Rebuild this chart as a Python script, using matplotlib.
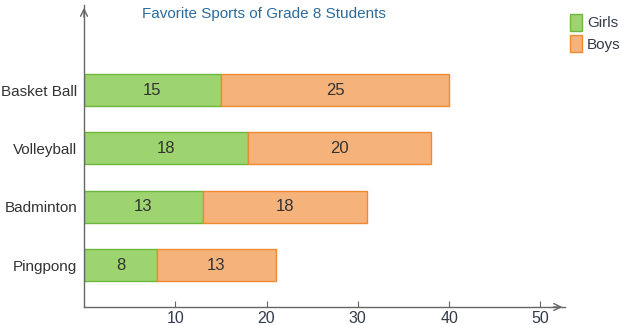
import matplotlib.pyplot as plt

plt.rcParams['font.family'] = ['Liberation Sans', 'DejaVu Sans']

sports = ['Pingpong', 'Badminton', 'Volleyball', 'Basket Ball']
girls = [8, 13, 18, 15]
boys = [13, 18, 20, 25]
x_ticks = [10, 20, 30, 40, 50]

GREEN = '#9dd46f'
GREEN_EDGE = '#6cb83c'
ORANGE = '#f5b27b'
ORANGE_EDGE = '#ef8a30'
TEXT = '#333333'
AXIS = '#666666'

fig = plt.figure(figsize=(6.21, 3.25), dpi=100)
ax = fig.add_axes([84 / 621, 18 / 325, (565 - 84) / 621, 302 / 325])

pos = list(range(len(sports)))
h = 0.55
ax.barh(pos, girls, height=h, color=GREEN, edgecolor=GREEN_EDGE, linewidth=1, label='Girls')
ax.barh(pos, boys, left=girls, height=h, color=ORANGE, edgecolor=ORANGE_EDGE, linewidth=1, label='Boys')

# value labels in the middle of each segment
for p, g, b in zip(pos, girls, boys):
    ax.text(g / 2, p, str(g), ha='center', va='center', fontsize=12, color=TEXT)
    ax.text(g + b / 2, p, str(b), ha='center', va='center', fontsize=12, color=TEXT)

ax.set_xlim(0, 52.7)
ax.set_ylim(-0.72, 4.46)
ax.set_yticks(pos)
ax.set_yticklabels(sports)
ax.set_xticks(x_ticks)

for s in ['top', 'right']:
    ax.spines[s].set_visible(False)
for s in ['left', 'bottom']:
    ax.spines[s].set_color(AXIS)
    ax.spines[s].set_linewidth(1)

ax.tick_params(axis='x', direction='in', length=4, color=AXIS, labelsize=11.5, labelcolor='#333a4a', pad=3)
ax.tick_params(axis='y', length=0, labelsize=11, labelcolor=TEXT, pad=5)

# open arrow heads at the ends of both axes
ax.annotate('', xy=(1.0, 0), xytext=(0.97, 0), xycoords='axes fraction',
            arrowprops=dict(arrowstyle='->,head_length=0.5,head_width=0.25', color=AXIS, lw=1),
            annotation_clip=False)
ax.annotate('', xy=(0, 1.0), xytext=(0, 0.95), xycoords='axes fraction',
            arrowprops=dict(arrowstyle='->,head_length=0.5,head_width=0.25', color=AXIS, lw=1),
            annotation_clip=False)

fig.text(264 / 621, 1 - 14 / 325, 'Favorite Sports of Grade 8 Students', ha='center', va='center',
         fontsize=11, color='#2a6c9e')

fig.legend(loc='upper left', bbox_to_anchor=(570 / 621, 1 - 14 / 325), frameon=False,
           fontsize=11, handlelength=0.8, handleheight=1.3, handletextpad=0.3,
           labelspacing=0.3, borderaxespad=0, borderpad=0, labelcolor='#333a4a')

fig.savefig('out.png', dpi=100)
